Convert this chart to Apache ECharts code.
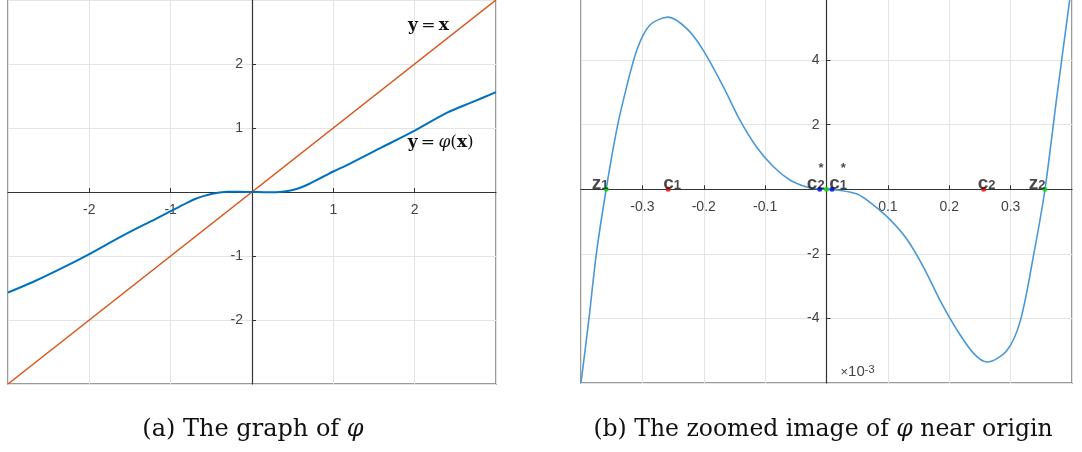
<!DOCTYPE html>
<html>
<head>
<meta charset="utf-8">
<script src="https://cdn.jsdelivr.net/npm/echarts@6/dist/echarts.min.js"></script>
<style>
html, body { margin: 0; padding: 0; background: #fff; }
#chart { width: 1082px; height: 452px; }
</style>
</head>
<body>
<div id="chart"></div>
<script>
// (a) the graph of phi
var phiX = [-3, -2.7, -2.4, -2, -1.6, -1.2, -1, -0.9, -0.8, -0.7, -0.6, -0.5, -0.4, -0.3, -0.15, 0,
            0.15, 0.3, 0.4, 0.5, 0.6, 0.7, 0.8, 0.9, 1, 1.2, 1.6, 2, 2.4, 2.7, 3];
var phiY = [-1.57, -1.41, -1.23, -0.97, -0.69, -0.43, -0.3, -0.235, -0.17, -0.11, -0.065, -0.03, -0.008, 0.004, 0.003, 0,
            -0.003, -0.004, 0.008, 0.03, 0.07, 0.125, 0.19, 0.255, 0.32, 0.44, 0.7, 0.96, 1.24, 1.4, 1.56];
var lineX = [-3, 3];
var lineY = [-3, 3];

// (b) zoomed near origin, values in units of 1e-3
var zoomX = [-0.4, -0.387, -0.375, -0.359, -0.342, -0.331, -0.309, -0.288, -0.258, -0.228, -0.201,
             -0.168, -0.141, -0.114, -0.086, -0.059, -0.032, -0.01, 0,
             0.017, 0.05, 0.077, 0.104, 0.131, 0.158, 0.185, 0.213, 0.24, 0.262, 0.294, 0.316,
             0.338, 0.356, 0.376, 0.4];
var zoomY = [-6.0, -4.0, -2.0, 0, 1.83, 2.76, 4.31, 5.08, 5.33, 4.98, 4.31,
             3.17, 2.14, 1.31, 0.69, 0.28, 0.07, 0.005, 0,
             -0.02, -0.15, -0.5, -0.95, -1.55, -2.41, -3.44, -4.37, -5.09, -5.35, -4.99, -4.06,
             -1.98, 0, 2.97, 6.4];
var rootX = [-0.359, 0, 0.356];
var critX = [-0.258, 0.256];
var critStarX = [-0.011, 0.009];
var pointNames = ['z1', 'c1', 'c2*', 'c1*', 'c2', 'z2'];
var pointX = [-0.359, -0.258, -0.011, 0.009, 0.256, 0.356];

function pairs(xs, ys) {
    return xs.map(function (x, i) { return [x, ys[i]]; });
}
function onAxis(xs) {
    return xs.map(function (x) { return [x, 0]; });
}

var gridA = { left: 8, top: 0, width: 488, height: 384 };
var gridB = { left: 581, top: -4.5, width: 491, height: 387.5 };

var labelDx = [-6, 4, -4, 6, 3, -8];
var tickFont = 'Liberation Sans, Arial, sans-serif';
var serif = 'DejaVu Serif, Liberation Serif, serif';
var axisColor = '#333';
var gridColor = '#e4e4e4';

function hideZero(v) {
    if (Math.abs(v) < 1e-9) return '';
    return String(Math.round(v * 10) / 10);
}

// both ranges are symmetric, so the zero line sits in the middle of each grid
function makeX(idx, g, min, max, step) {
    return {
        gridIndex: idx, type: 'value', min: min, max: max, interval: step,
        position: 'bottom', offset: -g.height / 2,
        axisLine: { onZero: false, lineStyle: { color: axisColor, width: 1.2 } },
        axisTick: { inside: true, length: 4, lineStyle: { color: axisColor } },
        axisLabel: {
            margin: 11, color: '#444', fontSize: 14, fontFamily: tickFont,
            showMinLabel: false, showMaxLabel: false, formatter: hideZero
        },
        splitLine: { show: true, lineStyle: { color: gridColor } }
    };
}
function makeY(idx, g, min, max, step, margin) {
    return {
        gridIndex: idx, type: 'value', min: min, max: max, interval: step,
        position: 'left', offset: -g.width / 2,
        axisLine: { onZero: false, lineStyle: { color: axisColor, width: 1.2 } },
        axisTick: { inside: true, length: 4, lineStyle: { color: axisColor } },
        axisLabel: {
            margin: margin, color: '#444', fontSize: 14, fontFamily: tickFont,
            showMinLabel: false, showMaxLabel: false, formatter: hideZero
        },
        splitLine: { show: true, lineStyle: { color: gridColor } }
    };
}

function pointLabel(p) {
    var n = p.name;
    var base = '{m|' + n[0] + '}{s|' + n[1] + '}';
    if (n[2] === '*') return '{h|' + n[0] + '}{st|*}\n' + base;
    return base;
}

var yB = makeY(1, gridB, -6, 6, 2, 7);
yB.name = '{a|\u00d7}{b|10}{c|-3}';
yB.nameLocation = 'start';
yB.nameGap = -11;
yB.nameTextStyle = {
    align: 'left', verticalAlign: 'middle', padding: [0, 0, 0, 14], color: '#444',
    rich: {
        a: { fontSize: 13, fontFamily: tickFont, color: '#444' },
        b: { fontSize: 15, fontFamily: tickFont, color: '#444' },
        c: { fontSize: 11, fontFamily: tickFont, color: '#444', verticalAlign: 'top', lineHeight: 8 }
    }
};

function gridOpt(g) {
    return {
        left: g.left, top: g.top, width: g.width, height: g.height,
        outerBoundsMode: 'none', containLabel: false,
        show: true, borderColor: '#7a7a7a', borderWidth: 1.5
    };
}

var chart = echarts.init(document.getElementById('chart'));
chart.setOption({
    animation: false,
    grid: [gridOpt(gridA), gridOpt(gridB)],
    xAxis: [makeX(0, gridA, -3, 3, 1), makeX(1, gridB, -0.4, 0.4, 0.1)],
    yAxis: [makeY(0, gridA, -3, 3, 1, 9), yB],
    graphic: [
        {
            type: 'text', x: 253, y: 430,
            style: {
                text: '(a) The graph of {i|\u03c6}', align: 'center', verticalAlign: 'middle',
                fontSize: 24, fontFamily: serif, fill: '#111',
                rich: { i: { fontStyle: 'italic', fontSize: 24, fontFamily: serif, fill: '#111' } }
            }
        },
        {
            type: 'text', x: 823, y: 430,
            style: {
                text: '(b) The zoomed image of {i|\u03c6} near origin', align: 'center', verticalAlign: 'middle',
                fontSize: 23.5, fontFamily: serif, fill: '#111',
                rich: { i: { fontStyle: 'italic', fontSize: 23.5, fontFamily: serif, fill: '#111' } }
            }
        }
    ],
    series: [
        {
            type: 'line', xAxisIndex: 0, yAxisIndex: 0, data: pairs(lineX, lineY),
            showSymbol: false, lineStyle: { color: '#D95319', width: 1.5 },
            markPoint: {
                symbolSize: 0, silent: true,
                label: {
                    show: true, formatter: '{b|y} {n|=} {b|x}',
                    rich: {
                        b: { fontFamily: serif, fontWeight: 'bold', fontSize: 17, color: '#111' },
                        n: { fontFamily: serif, fontSize: 17, color: '#111' }
                    }
                },
                data: [{ coord: [2.17, 2.6] }]
            }
        },
        {
            type: 'line', xAxisIndex: 0, yAxisIndex: 0, data: pairs(phiX, phiY),
            showSymbol: false, smooth: 0.3,
            lineStyle: { color: '#0072BD', width: 2 },
            markPoint: {
                symbolSize: 0, silent: true,
                label: {
                    show: true, formatter: '{b|y} {n|=} {i|\u03c6}{n|(}{b|x}{n|)}',
                    rich: {
                        b: { fontFamily: serif, fontWeight: 'bold', fontSize: 17, color: '#111' },
                        n: { fontFamily: serif, fontSize: 17, color: '#111' },
                        i: { fontFamily: serif, fontStyle: 'italic', fontSize: 17, color: '#111' }
                    }
                },
                data: [{ coord: [2.32, 0.77] }]
            }
        },
        {
            type: 'line', xAxisIndex: 1, yAxisIndex: 1, data: pairs(zoomX, zoomY),
            showSymbol: false, smooth: 0.3,
            lineStyle: { color: '#4b98d6', width: 1.6 }
        },
        {
            type: 'scatter', xAxisIndex: 1, yAxisIndex: 1, data: onAxis(rootX),
            symbolSize: 5, itemStyle: { color: '#00e000' }, z: 5
        },
        {
            type: 'scatter', xAxisIndex: 1, yAxisIndex: 1, data: onAxis(critX),
            symbolSize: 5, itemStyle: { color: '#ff0000' }, z: 5
        },
        {
            type: 'scatter', xAxisIndex: 1, yAxisIndex: 1, data: onAxis(critStarX),
            symbolSize: 5, itemStyle: { color: '#0000ff' }, z: 5
        },
        {
            type: 'scatter', xAxisIndex: 1, yAxisIndex: 1, symbolSize: 0, silent: true, z: 6,
            data: pointX.map(function (x, i) {
                return { value: [x, 0], name: pointNames[i], label: { offset: [labelDx[i], 2] } };
            }),
            label: {
                show: true, position: 'top', distance: 2, formatter: pointLabel,
                rich: {
                    m: { fontFamily: tickFont, fontWeight: 'bold', fontSize: 19, color: '#1a1a1a', lineHeight: 15, verticalAlign: 'top' },
                    s: { fontFamily: tickFont, fontWeight: 'bold', fontSize: 13, color: '#1a1a1a', lineHeight: 12, padding: [8, 0, 0, 0] },
                    h: { fontFamily: tickFont, fontWeight: 'bold', fontSize: 19, color: 'transparent', lineHeight: 12 },
                    st: { fontFamily: tickFont, fontWeight: 'bold', fontSize: 13, color: '#1a1a1a', lineHeight: 12 }
                }
            }
        }
    ]
});
</script>
</body>
</html>
